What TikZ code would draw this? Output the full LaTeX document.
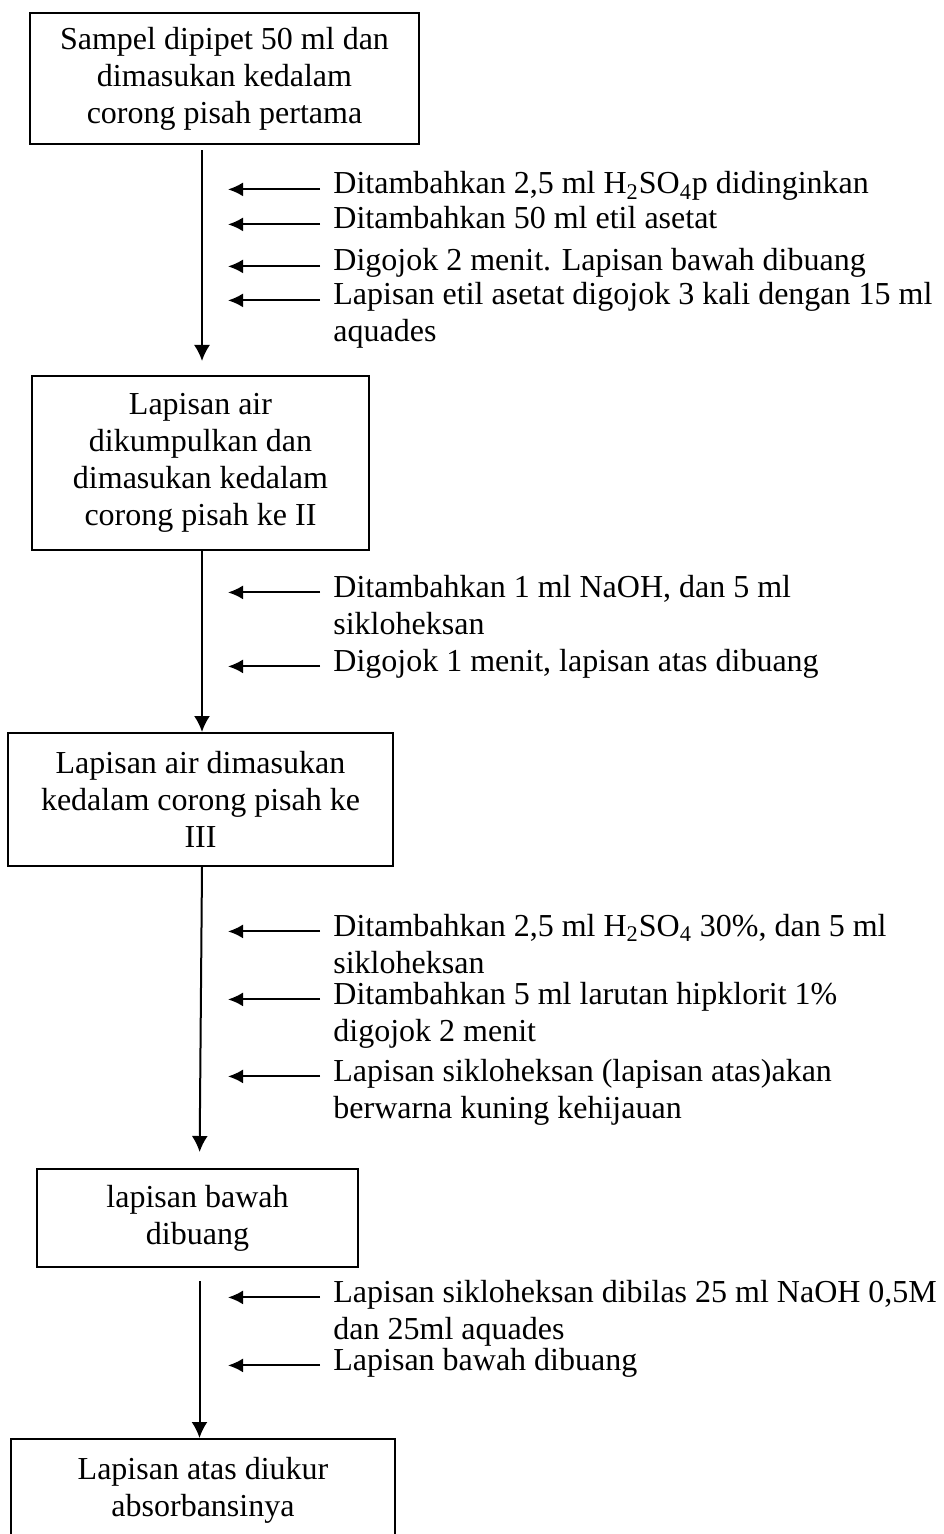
\documentclass[tikz,border=0pt]{standalone}
\usepackage{fontspec}
\setmainfont{Liberation Serif}
\usetikzlibrary{arrows.meta}
% step text, baseline on its first line
\newcommand{\steplines}[1]{\begin{tabular}[t]{@{}l@{}}#1\end{tabular}}

\begin{document}
\begin{tikzpicture}[
  x=0.5pt, y=-0.5pt,
  every node/.style={font=\fontsize{16}{18.5}\selectfont},
  box/.style={draw, line width=1pt, align=center, inner sep=0pt},
  note/.style={anchor=base west, inner sep=0pt},
  flow/.style={line width=1pt, -{Latex[length=8pt,width=8pt]}},
  add/.style={line width=1pt, -{Latex[length=7.5pt,width=7pt]}, shorten <=6.5pt}]
  \useasboundingbox (0,0) rectangle (943,1534);
  % axis lines for the arrows
  \coordinate (ax) at (202,0);
  \coordinate (ay) at (199.5,0);
  \coordinate (tips) at (228,0);
  % Boxes
  \node[box, minimum width=194.5pt, minimum height=65.5pt] (b1) at (224.5,79)
    {Sampel dipipet 50 ml dan\\dimasukan kedalam\\corong pisah pertama};
  \node[box, minimum width=168.5pt, minimum height=87pt] (b2) at (200.5,463)
    {Lapisan air\\dikumpulkan dan\\dimasukan kedalam\\corong pisah ke II};
  \node[box, minimum width=192.5pt, minimum height=66.5pt] (b3) at (200.5,799.5)
    {Lapisan air dimasukan\\kedalam corong pisah ke\\III};
  \node[box, minimum width=160.5pt, minimum height=49pt] (b4) at (197.5,1218)
    {lapisan bawah\\dibuang};
  \node[box, minimum width=192pt, minimum height=51pt] (b5) at (203,1490)
    {Lapisan atas diukur\\absorbansinya};
  % Main flow
  \draw[flow, shorten <=2.5pt, shorten >=7pt] (b1.south -| ax) -- (b2.north -| ax);
  \draw[flow] (b2.south -| ax) -- (b3.north -| ax);
  \draw[flow, shorten >=8pt] (b3.south -| ax) -- (b4.north -| ay);
  \draw[flow, shorten <=6.5pt] (b4.south -| ay) -- (b5.north -| ay);
  % Steps, first funnel
  \node[note] (n1) at (333,194) {\steplines{Ditambahkan 2,5 ml H\textsubscript{2}SO\textsubscript{4}p didinginkan}};
  \node[note] (n2) at (333,229) {\steplines{Ditambahkan 50 ml etil asetat}};
  \node[note] (n3) at (333,271) {\steplines{Digojok 2 menit. Lapisan bawah dibuang}};
  \node[note] (n4) at (333,305) {\steplines{Lapisan etil asetat digojok 3 kali dengan 15 ml\\aquades}};
  % Steps, second funnel
  \node[note] (n5) at (333,597) {\steplines{Ditambahkan 1 ml NaOH, dan 5 ml\\sikloheksan}};
  \node[note] (n6) at (333,671) {\steplines{Digojok 1 menit, lapisan atas dibuang}};
  % Steps, third funnel
  \node[note] (n7) at (333,936) {\steplines{Ditambahkan 2,5 ml H\textsubscript{2}SO\textsubscript{4} 30\%, dan 5 ml\\sikloheksan}};
  \node[note] (n8) at (333,1004) {\steplines{Ditambahkan 5 ml larutan hipklorit 1\%\\digojok 2 menit}};
  \node[note] (n9) at (333,1081) {\steplines{Lapisan sikloheksan (lapisan atas)akan\\berwarna kuning kehijauan}};
  % Steps, washing
  \node[note] (n10) at (333,1302) {\steplines{Lapisan sikloheksan dibilas 25 ml NaOH 0,5M\\dan 25ml aquades}};
  \node[note] (n11) at (333,1370) {\steplines{Lapisan bawah dibuang}};
  % Side arrows
  \foreach \i in {1,...,11}
    \draw[add] (n\i.mid west) -- (n\i.mid west -| tips);
\end{tikzpicture}
\end{document}
